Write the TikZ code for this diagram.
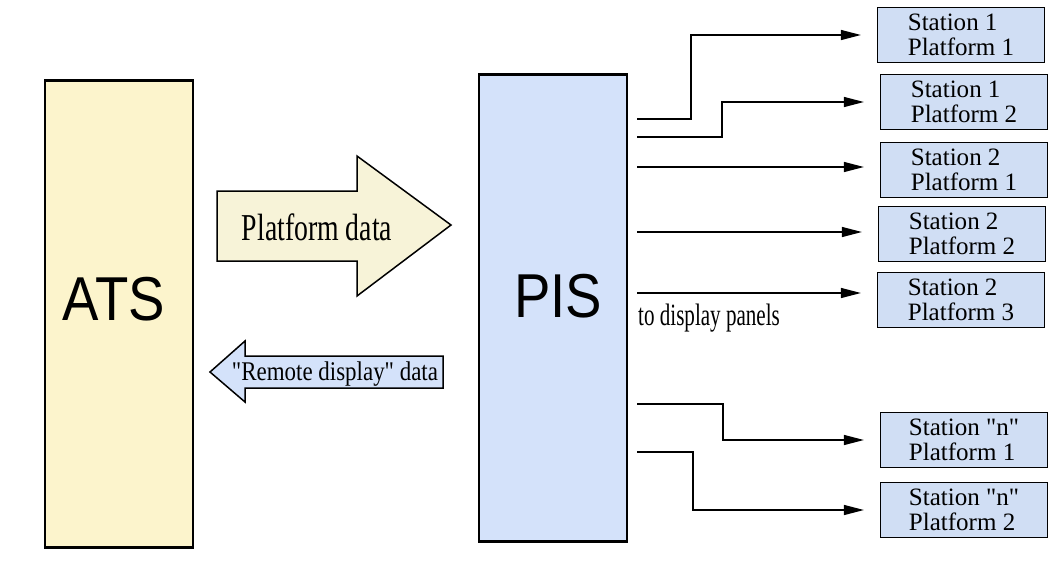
\documentclass[tikz,border=0pt]{standalone}
\usepackage{fontspec}
\setmainfont{Liberation Serif}
\newfontfamily\sysfont[FakeStretch=0.88]{Liberation Sans}
\newfontfamily\platfont[FakeStretch=0.73]{Liberation Serif}
\newfontfamily\remfont[FakeStretch=0.85]{Liberation Serif}
\newfontfamily\panfont[FakeStretch=0.68]{Liberation Serif}
\newfontfamily\stnfont[FakeStretch=1.001]{Liberation Serif}
\usetikzlibrary{arrows.meta}
\definecolor{atsyellow}{RGB}{252,244,204}
\definecolor{pisblue}{RGB}{212,226,250}
\definecolor{panelblue}{RGB}{208,222,244}
\definecolor{datacream}{RGB}{247,243,216}

\begin{document}
\begin{tikzpicture}[x=1pt,y=-1pt,
  sys/.style={draw,line width=2.2pt,minimum width=148pt,minimum height=467pt,inner sep=0pt},
  systext/.style={font=\sysfont\fontsize{62}{62}\selectfont,inner sep=0pt},
  panel/.style={draw,line width=1.2pt,fill=panelblue,minimum width=167pt,minimum height=55pt,
    inner sep=0pt,align=left,font=\stnfont\fontsize{25}{25}\selectfont},
  feed/.style={line width=1.3pt,-{Triangle[length=20pt,width=10pt]},shorten >=16pt},
  block/.style={draw,line width=1.5pt}]
  \useasboundingbox (0,0) rectangle (1056,584);

  % the two systems
  \node[sys,fill=atsyellow] (ats) at (119,314) {};
  \node[sys,fill=pisblue] (pis) at (553,308) {};
  \node[systext] (atslbl) at (114,299) {ATS};
  \node[systext] (pislbl) at (558,296) {PIS};

  % data between ATS and PIS
  \draw[block,fill=datacream] (217,191) -- (357,191) -- (357,156) -- (451,225)
    -- (357,296) -- (357,261) -- (217,261) -- cycle;
  \node[font=\platfont\fontsize{38}{38}\selectfont] (platdata) at (317,227) {Platform data};
  \draw[block,fill=pisblue] (443,356) -- (245,356) -- (245,341) -- (210,372)
    -- (245,402) -- (245,388) -- (443,388) -- cycle;
  \node[anchor=base,inner sep=0pt,font=\remfont\fontsize{27}{27}\selectfont] (remdata) at (335,380) {"Remote display" data};

  % display panels
  \foreach \n/\x/\y/\t in {s11/961/35/{Station 1\\Platform 1},
                           s12/964/102/{Station 1\\Platform 2},
                           s21/964/170/{Station 2\\Platform 1},
                           s22/962/234/{Station 2\\Platform 2},
                           s23/961/300/{Station 2\\Platform 3},
                           sn1/964/440/{Station "n"\\Platform 1},
                           sn2/964/510/{Station "n"\\Platform 2}}
    \node[panel] (\n) at (\x,\y) {\t};

  \foreach \n/\y in {1/119,2/137,3/167,4/232,5/293,6/404,7/452}
    \coordinate (o\n) at (637,\y);

  \draw[feed] (o1) -- ++(54,0) |- (s11.west);
  \draw[feed] (o2) -- ++(85,0) |- (s12.west);
  \draw[feed] (o3) -- (o3 -| s21.west);
  \draw[feed] (o4) -- (o4 -| s22.west);
  \draw[feed] (o5) -- (o5 -| s23.west);
  \draw[feed] (o6) -- ++(86,0) |- (sn1.west);
  \draw[feed] (o7) -- ++(56,0) |- (sn2.west);

  \node[anchor=base west,inner sep=0pt,font=\panfont\fontsize{31}{31}\selectfont] (tolbl) at (638,325) {to display panels};
\end{tikzpicture}
\end{document}
